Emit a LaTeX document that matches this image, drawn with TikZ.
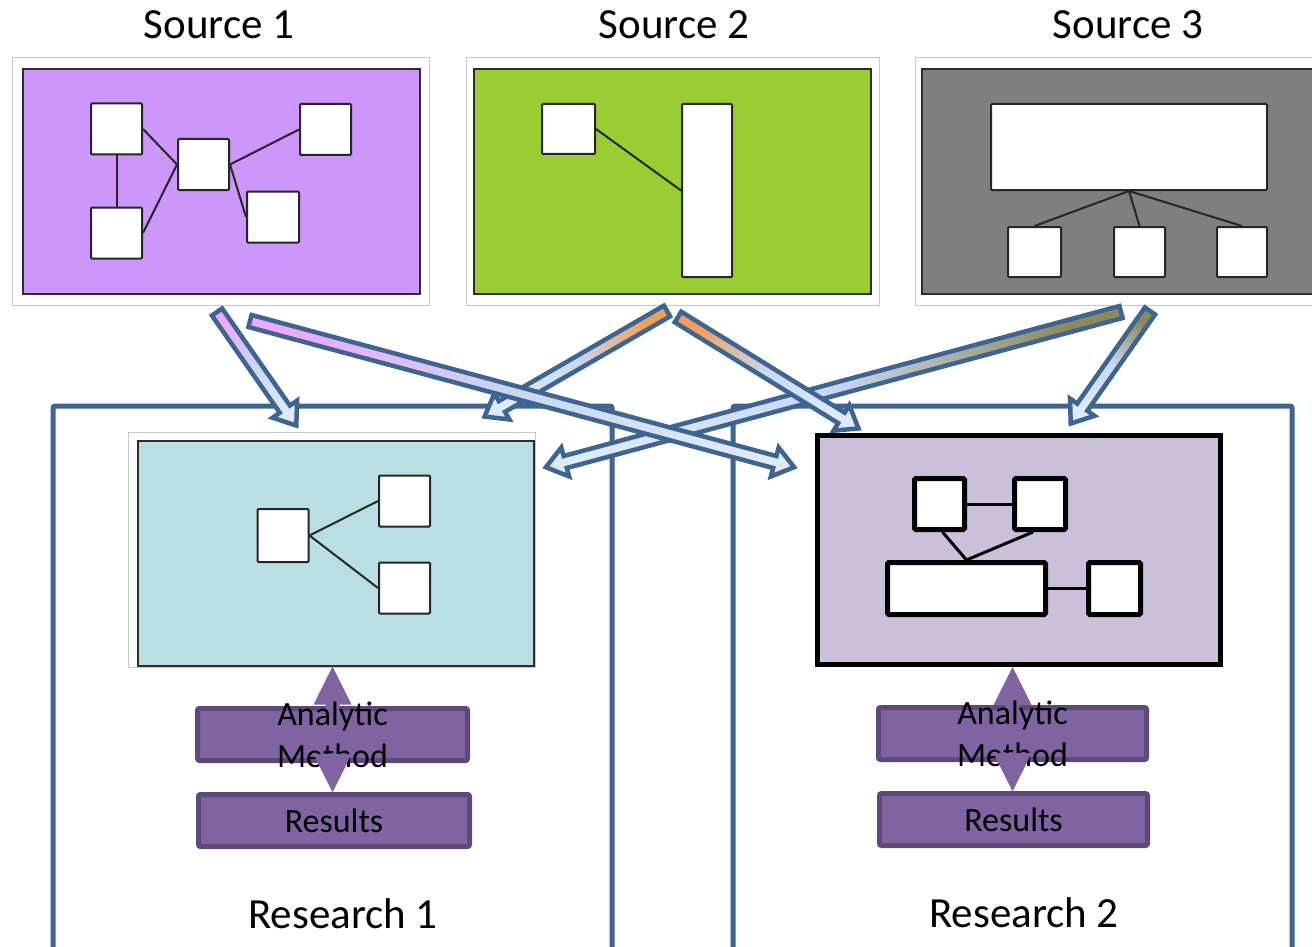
\documentclass[tikz,border=0pt]{standalone}
\usepackage{fontspec}
\setmainfont{Carlito}
\usetikzlibrary{calc}

\definecolor{srcpurple}{RGB}{204,150,250}
\definecolor{srcgreen}{RGB}{154,205,50}
\definecolor{srcgray}{RGB}{127,127,127}
\definecolor{resteal}{RGB}{185,223,226}
\definecolor{reslilac}{RGB}{203,192,218}
\definecolor{methfill}{RGB}{128,100,162}
\definecolor{methline}{RGB}{95,73,122}
\definecolor{framegray}{RGB}{200,200,200}
\definecolor{edgedark}{RGB}{45,45,45}
\definecolor{flowline}{RGB}{62,100,145}
\definecolor{flowmid}{RGB}{200,216,240}
\definecolor{flowhead}{RGB}{222,234,250}
\definecolor{tailpink}{RGB}{236,170,250}
\definecolor{tailorange}{RGB}{240,160,90}
\definecolor{tailolive}{RGB}{140,138,90}

% wide outlined arrow from one named point to another, shaded from tail to head
\newcommand\flowarrow[3]{%
  \pgfmathanglebetweenpoints{\pgfpointanchor{#1}{center}}{\pgfpointanchor{#2}{center}}%
  \let\flowang\pgfmathresult
  \pgfmathsetmacro\flowshade{\flowang+90}%
  \pgfpointdiff{\pgfpointanchor{#1}{center}}{\pgfpointanchor{#2}{center}}%
  \pgfgetlastxy{\flowdx}{\flowdy}%
  \pgfmathveclen{\flowdx}{\flowdy}\let\flowlen\pgfmathresult
  \begin{scope}[shift={(#1)}, rotate=\flowang]
    \path[flowshape, left color=#3, right color=flowhead, middle color=flowmid,
          shading angle=\flowshade]
      (0,-6.2) -- (\flowlen-23,-6.2) -- (\flowlen-23,-15) -- (\flowlen-3,0)
      -- (\flowlen-23,15) -- (\flowlen-23,6.2) -- (0,6.2) -- cycle;
  \end{scope}}

% vertical double-headed arrow between a panel and its results box
\newcommand\methodarrow[3]{%
  \path[fill=methfill] let \p1=(#1.south), \p2=(#2.north), \p3=(#3.center) in
    (\x3,\y1) -- (\x3+19pt,\y1-38pt) -- (\x3+7pt,\y1-38pt) -- (\x3+7pt,\y2+38pt)
    -- (\x3+19pt,\y2+38pt) -- (\x3,\y2) -- (\x3-19pt,\y2+38pt) -- (\x3-7pt,\y2+38pt)
    -- (\x3-7pt,\y1-38pt) -- (\x3-19pt,\y1-38pt) -- cycle;}
% the lower head of that arrow lies over the method text
\newcommand\methodhead[2]{%
  \path[fill=methfill] let \p2=(#1.north), \p3=(#2.center) in
    (\x3,\y2) -- (\x3-19pt,\y2+38pt) -- (\x3+19pt,\y2+38pt) -- cycle;}

\tikzset{
  frame/.style={draw=framegray, line width=1, fill=white, inner sep=0},
  panel/.style={draw=edgedark, line width=2, inner sep=0},
  sq/.style={draw=black!85, fill=white, line width=2, inner sep=0, rounded corners=1},
  link/.style={draw=black!85, line width=2},
  boldsq/.style={draw=black, fill=white, line width=5, inner sep=0, rounded corners=1.5},
  boldlink/.style={draw=black, line width=3},
  container/.style={draw=flowline, line width=5, rounded corners=2},
  method/.style={draw=methline, fill=methfill, line width=5, rounded corners=2, inner sep=0},
  heading/.style={font=\fontsize{43}{52}\selectfont, inner sep=0, anchor=base},
  methtext/.style={font=\fontsize{34}{42}\selectfont, align=center, inner sep=0},
  flowshape/.style={draw=flowline, line width=4.5, line join=miter},
}

\begin{document}
\begin{tikzpicture}[x=1pt, y=-1pt]
\useasboundingbox (0,0) rectangle (1312,947);
\clip (0,0) rectangle (1312,947);
\fill[white] (0,0) rectangle (1312,947);

% research containers
\draw[container] (53,975) -- (53,406) -- (612,406) -- (612,975);
\draw[container] (733,975) -- (733,406) -- (1292,406) -- (1292,975);

% ---------- Source 1
\node[frame, minimum width=417, minimum height=247] (src1frame) at (220.5,181.5) {};
\node[panel, fill=srcpurple, minimum width=397, minimum height=225] (src1) at (221.5,181.5) {};
\node[sq, minimum width=51, minimum height=51] (s1a) at (116.5,129) {};
\node[sq, minimum width=51, minimum height=51] (s1b) at (325.5,129.5) {};
\node[sq, minimum width=51, minimum height=51] (s1c) at (203.5,164.5) {};
\node[sq, minimum width=51, minimum height=51] (s1d) at (116.5,233) {};
\node[sq, minimum width=52, minimum height=51] (s1e) at (273,217) {};
\draw[link] (s1a) -- (s1d);
\draw[link] (s1a.east) -- (s1c.west);
\draw[link] (s1d.east) -- (s1c.west);
\draw[link] (s1c.east) -- (s1b.west);
\draw[link] (s1c.east) -- (s1e.west);

% ---------- Source 2
\node[frame, minimum width=413, minimum height=247] (src2frame) at (672.5,181.5) {};
\node[panel, fill=srcgreen, minimum width=397, minimum height=225] (src2) at (672.5,181.5) {};
\node[sq, minimum width=53, minimum height=50] (s2a) at (568.5,129) {};
\node[sq, minimum width=50, minimum height=173] (s2b) at (707,190.5) {};
\draw[link] (s2a.east) -- (s2b.west);

% ---------- Source 3
\node[frame, minimum width=420, minimum height=247] (src3frame) at (1125,181.5) {};
\node[panel, fill=srcgray, minimum width=420, minimum height=225] (src3) at (1132,181.5) {};
\node[sq, minimum width=276, minimum height=86] (s3top) at (1129,147) {};
\node[sq, minimum width=53, minimum height=50] (s3a) at (1034.5,252) {};
\node[sq, minimum width=51, minimum height=50] (s3b) at (1139.5,252) {};
\node[sq, minimum width=50, minimum height=50] (s3c) at (1242,252) {};
\draw[link] (s3top.south) -- (s3a.north);
\draw[link] (s3top.south) -- (s3b.north);
\draw[link] (s3top.south) -- (s3c.north);

% ---------- Research 1 panel
\node[frame, minimum width=407, minimum height=235] (res1frame) at (331.5,549.5) {};
\node[panel, fill=resteal, minimum width=396, minimum height=225] (res1) at (335.5,553) {};
\node[sq, minimum width=51, minimum height=53] (r1a) at (283,535.5) {};
\node[sq, minimum width=51, minimum height=51] (r1b) at (404.5,501) {};
\node[sq, minimum width=51, minimum height=51] (r1c) at (404.5,588) {};
\draw[link] (r1a.east) -- (r1b.west);
\draw[link] (r1a.east) -- (r1c.west);

% ---------- Research 2 panel
\node[panel, draw=black, line width=5, fill=reslilac, minimum width=403, minimum height=229] (res2) at (1019,550) {};
\node[boldsq, minimum width=50, minimum height=51] (r2a) at (939.5,504) {};
\node[boldsq, minimum width=51, minimum height=51] (r2b) at (1040,504) {};
\node[boldsq, minimum width=158, minimum height=52] (r2c) at (966.5,588.5) {};
\node[boldsq, minimum width=52, minimum height=52] (r2d) at (1114.5,588.5) {};
\draw[boldlink] (r2a.east) -- (r2b.west);
\draw[boldlink] ([xshift=3]r2a.south) -- (r2c.north);
\draw[boldlink] ([xshift=-7]r2b.south) -- (r2c.north);
\draw[boldlink] (r2c.east) -- (r2d.west);

% ---------- method and results boxes
\node[method, minimum width=270, minimum height=52] (meth1) at (332.5,734.5) {};
\node[method, minimum width=271, minimum height=52] (resu1) at (334,820.5) {};
\node[method, minimum width=268, minimum height=52] (meth2) at (1012.5,733.5) {};
\node[method, minimum width=268, minimum height=52] (resu2) at (1013.5,819.5) {};
\methodarrow{res1}{resu1}{meth1}
\methodarrow{res2}{resu2}{meth2}
\node[methtext] at (meth1.center) {Analytic\\Method};
\node[methtext] at (resu1.center) {Results};
\node[methtext] at (meth2.center) {Analytic\\Method};
\node[methtext] at (resu2.center) {Results};
\methodhead{resu1}{meth1}
\methodhead{resu2}{meth2}

% ---------- flows from sources to research
\coordinate (a1t) at (217,312);  \coordinate (a1h) at (298,428);
\coordinate (a2t) at (250,321);  \coordinate (a2h) at (797,468);
\coordinate (a3t) at (667,311);  \coordinate (a3h) at (482,418);
\coordinate (a4t) at (678,317);  \coordinate (a4h) at (861,430);
\coordinate (a5t) at (1121,312); \coordinate (a5h) at (543,468);
\coordinate (a6t) at (1150,311); \coordinate (a6h) at (1069,426);
\flowarrow{a5t}{a5h}{tailolive}
\flowarrow{a3t}{a3h}{tailorange}
\flowarrow{a1t}{a1h}{tailpink}
\flowarrow{a6t}{a6h}{tailolive}
\flowarrow{a4t}{a4h}{tailorange}
\flowarrow{a2t}{a2h}{tailpink}

% ---------- headings
\node[heading] (h1) at (219,39) {Source 1};
\node[heading] (h2) at (674,39) {Source 2};
\node[heading] (h3) at (1128,39) {Source 3};
\node[heading] (h4) at (343,928) {Research 1};
\node[heading] (h5) at (1024,927) {Research 2};
\end{tikzpicture}
\end{document}
